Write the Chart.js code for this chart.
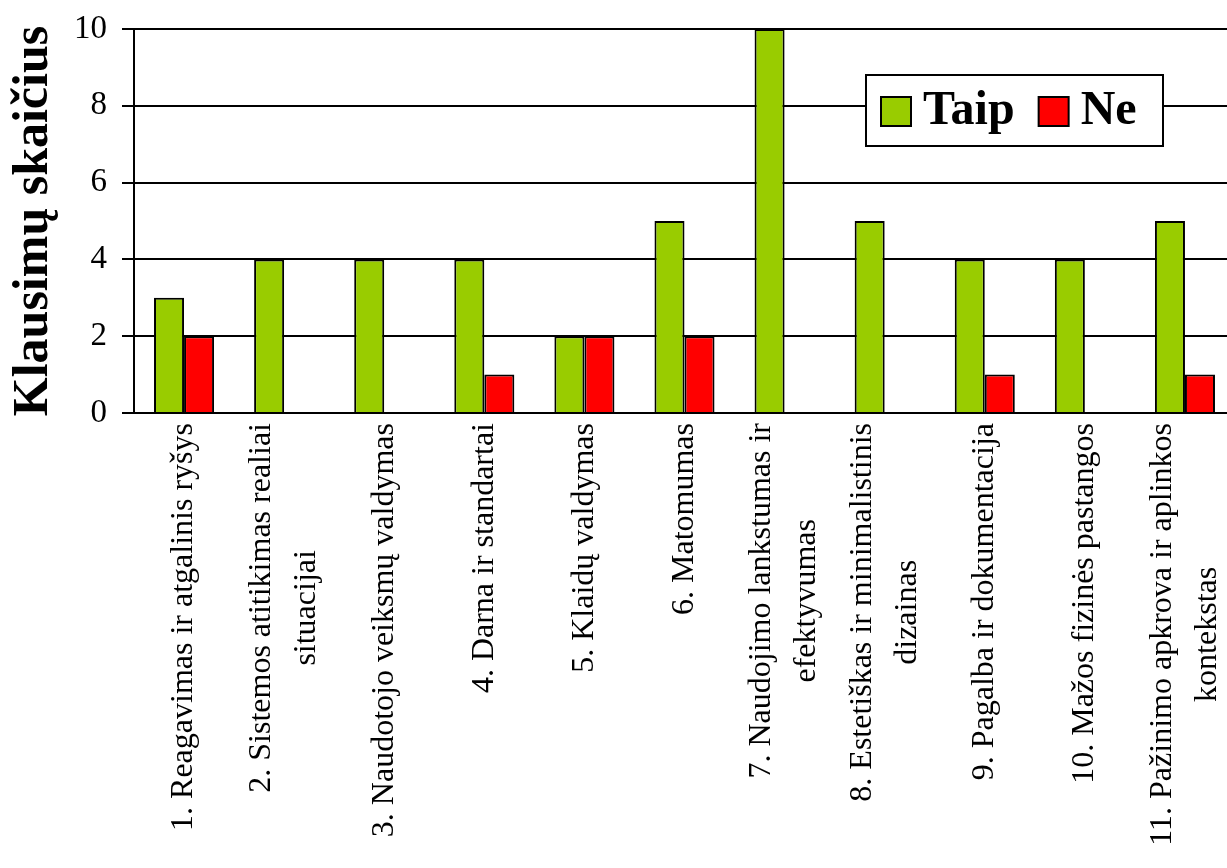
<!DOCTYPE html>
<html>
<head>
<meta charset="utf-8">
<script src="https://cdn.jsdelivr.net/npm/chart.js@4/dist/chart.umd.min.js"></script>
<style>
html,body{margin:0;padding:0;background:#fff;overflow:hidden;}
#wrap{width:1240px;height:868px;}
</style>
</head>
<body>
<div id="wrap"><canvas id="chart" width="1240" height="868"></canvas></div>
<script>
const categories=[
["1. Reagavimas ir atgalinis ryšys"],
["2. Sistemos atitikimas realiai","situacijai"],
["3. Naudotojo veiksmų valdymas"],
["4. Darna ir standartai"],
["5. Klaidų valdymas"],
["6. Matomumas"],
["7. Naudojimo lankstumas ir","efektyvumas"],
["8. Estetiškas ir minimalistinis","dizainas"],
["9. Pagalba ir dokumentacija"],
["10. Mažos fizinės pastangos"],
["11. Pažinimo apkrova ir aplinkos","kontekstas"]
];
const taip=[3,4,4,4,2,5,10,5,4,4,5];
const ne=[2,0,0,1,2,2,0,0,1,0,1];
const yTicks=[0,2,4,6,8,10];

const serif='"Liberation Serif","Times New Roman",serif';

// x labels drawn under the axis, rotated, lines centred in the block
const xLabels={
id:"xLabels",
afterDraw(chart){
const ctx=chart.ctx,sc=chart.scales.x;
const top=chart.chartArea.bottom+10;
ctx.save();
ctx.font="32px "+serif;
ctx.fillStyle="#000";
ctx.textAlign="center";
ctx.textBaseline="middle";
categories.forEach((lines,i)=>{
let x=sc.getPixelForValue(i);
let w=Math.max(...lines.map(l=>ctx.measureText(l).width));
ctx.save();
ctx.translate(x,top);
ctx.rotate(-Math.PI/2);
lines.forEach((l,j)=>{
ctx.fillText(l,-w/2,(j-(lines.length-1)/2)*45);
});
ctx.restore();
});
ctx.restore();
}
};

// legend box inside the plot
const boxLegend={
id:"boxLegend",
afterDraw(chart){
const ctx=chart.ctx;
ctx.save();
ctx.fillStyle="#fff";
ctx.fillRect(866,75,297,71);
ctx.strokeStyle="#000";
ctx.lineWidth=2;
ctx.strokeRect(866,75,297,71);
ctx.font="bold 48px "+serif;
ctx.textBaseline="middle";
ctx.textAlign="left";
let x=881;
chart.data.datasets.forEach(ds=>{
ctx.fillStyle=ds.backgroundColor;
ctx.fillRect(x,97,30,29);
ctx.strokeRect(x,97,30,29);
ctx.fillStyle="#000";
ctx.fillText(ds.label,x+42,112);
x+=42+ctx.measureText(ds.label).width+24;
});
ctx.restore();
}
};

new Chart(document.getElementById("chart"),{
type:"bar",
data:{
labels:categories,
datasets:[
{label:"Taip",data:taip,backgroundColor:"#99cc00",borderColor:"#000",borderWidth:2},
{label:"Ne",data:ne,backgroundColor:"#ff0000",borderColor:"#000",borderWidth:2}
]
},
options:{
responsive:false,
animation:false,
devicePixelRatio:1,
categoryPercentage:0.6,
barPercentage:1,
layout:{padding:{left:0,top:29,right:5,bottom:455}},
plugins:{legend:{display:false},tooltip:{enabled:false}},
scales:{
x:{
grid:{display:false},
border:{display:true,color:"#000",width:2},
ticks:{display:false},
afterFit(s){s.height=0;}
},
y:{
min:0,max:10,
afterBuildTicks(s){s.ticks=yTicks.map(v=>({value:v}));},
grid:{color:"#000",lineWidth:2,tickLength:12},
border:{display:true,color:"#000",width:2},
ticks:{color:"#000",padding:15,font:{family:serif,size:33,lineHeight:0.8}},
title:{display:true,text:"Klausimų skaičius",color:"#000",padding:{top:4,bottom:0},font:{family:serif,size:50,weight:"bold"}},
afterFit(s){s.width=134;}
}
}
},
plugins:[xLabels,boxLegend]
});
</script>
</body>
</html>
